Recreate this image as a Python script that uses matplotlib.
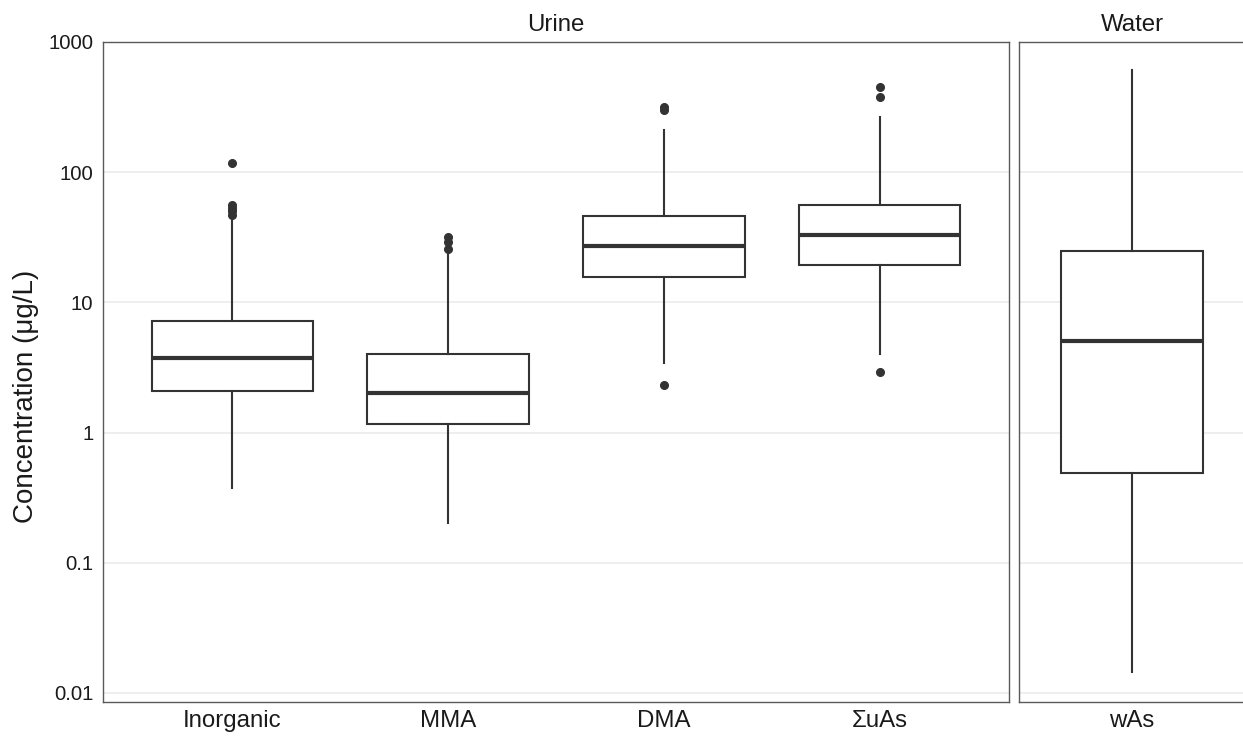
import matplotlib
matplotlib.use("Agg")
import matplotlib.pyplot as plt
from matplotlib.ticker import FixedLocator, FixedFormatter, NullLocator

plt.rcParams['font.family'] = ['Liberation Sans', 'DejaVu Sans']

# ---- data ----
urine_labels = ["Inorganic", "MMA", "DMA", "\u03a3uAs"]
urine_whislo = [0.377, 0.203, 3.4, 3.98]
urine_q1 = [2.07, 1.17, 15.6, 19.3]
urine_med = [3.71, 2.03, 27.0, 32.8]
urine_q3 = [7.14, 3.98, 45.9, 55.7]
urine_whishi = [45.0, 24.5, 210.0, 265.0]
urine_fliers = [
    [117.0, 56.0, 53.0, 50.0, 47.0],
    [32.0, 29.0, 25.6],
    [316.0, 300.0, 2.34],
    [451.0, 378.0, 2.94],
]

water_labels = ["wAs"]
water_whislo = [0.0145]
water_q1 = [0.49]
water_med = [5.01]
water_q3 = [24.7]
water_whishi = [609.0]
water_fliers = [[]]

ytick_vals = [0.01, 0.1, 1, 10, 100, 1000]
ytick_labels = ["0.01", "0.1", "1", "10", "100", "1000"]

# ---- styling ----
W, H = 1243, 736
fig = plt.figure(figsize=(W / 100, H / 100), dpi=100)

line_c = "#333333"
grid_c = "#ebebeb"
frame_c = "#5a5a5a"
text_c = "#1a1a1a"

def make_stats(labels, lo, q1, med, q3, hi, fl):
    out = []
    for i in range(len(labels)):
        out.append(dict(label=labels[i], whislo=lo[i], q1=q1[i], med=med[i],
                        q3=q3[i], whishi=hi[i], fliers=fl[i]))
    return out

def style_ax(ax):
    ax.set_yscale("log")
    ax.set_ylim(10 ** (-2 - 9 / 130), 1000)
    ax.yaxis.set_major_locator(FixedLocator(ytick_vals))
    ax.yaxis.set_minor_locator(NullLocator())
    ax.grid(True, axis="y", color=grid_c, linewidth=1.2)
    ax.set_axisbelow(True)
    for s in ax.spines.values():
        s.set_color(frame_c)
        s.set_linewidth(1.0)
    ax.tick_params(axis="y", length=0, labelsize=14.7, colors=text_c, pad=7)
    ax.tick_params(axis="x", length=0, labelsize=17.3, colors=text_c, pad=6)

box_kw = dict(
    widths=0.75, patch_artist=True, showcaps=False,
    boxprops=dict(facecolor="white", edgecolor=line_c, linewidth=1.5),
    medianprops=dict(color=line_c, linewidth=3.0, solid_capstyle="butt"),
    whiskerprops=dict(color=line_c, linewidth=1.5),
    flierprops=dict(marker="o", markerfacecolor=line_c, markeredgecolor=line_c,
                    markersize=5.5),
)

ax1 = fig.add_axes([103 / W, 1 - 702 / H, 906 / W, 660 / H])
ax2 = fig.add_axes([1019 / W, 1 - 702 / H, 226 / W, 660 / H])

ax1.bxp(make_stats(urine_labels, urine_whislo, urine_q1, urine_med, urine_q3,
                   urine_whishi, urine_fliers),
        positions=list(range(1, len(urine_labels) + 1)), **box_kw)
ax2.bxp(make_stats(water_labels, water_whislo, water_q1, water_med, water_q3,
                   water_whishi, water_fliers),
        positions=[1], **box_kw)

style_ax(ax1)
style_ax(ax2)
ax1.set_xlim(0.4, len(urine_labels) + 0.6)
ax2.set_xlim(0.4, 1.6)

ax1.yaxis.set_major_formatter(FixedFormatter(ytick_labels))
ax2.set_yticklabels([])

fig.text(26 / W, 1 - 396 / H, "Concentration (\u03bcg/L)", fontsize=20,
         color=text_c, rotation=90, ha="center", va="center")
ax1.set_title("Urine", fontsize=17.3, color=text_c, pad=8)
ax2.set_title("Water", fontsize=17.3, color=text_c, pad=8)

fig.savefig("out.png", dpi=100)
